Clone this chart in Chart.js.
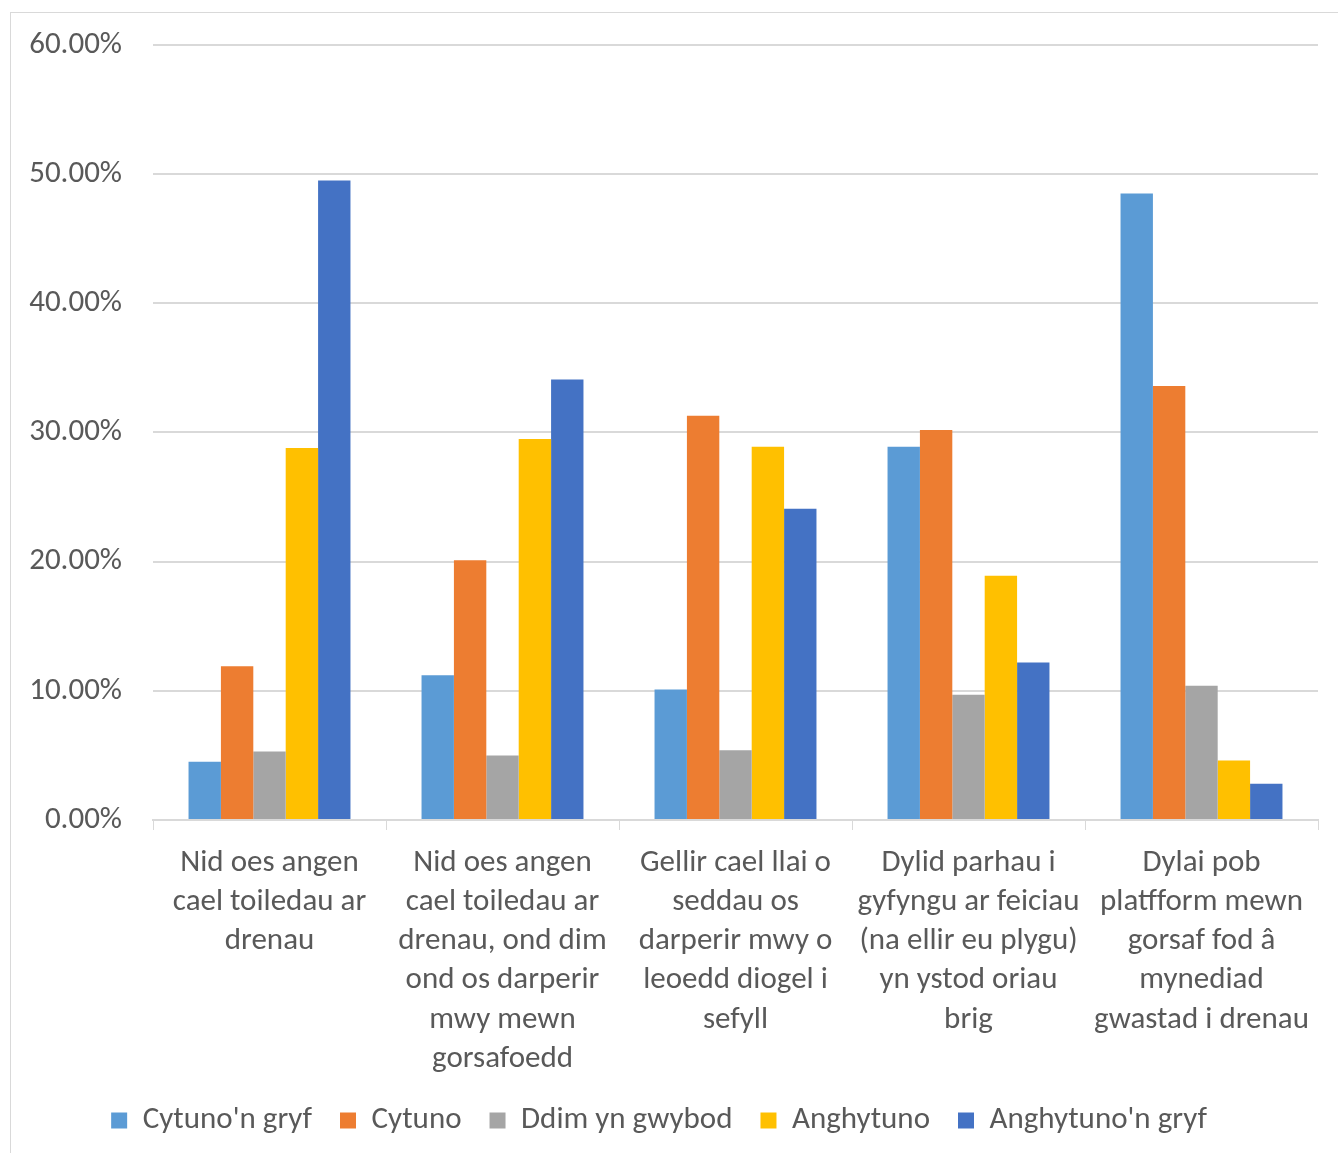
<!DOCTYPE html>
<html>
<head>
<meta charset="utf-8">
<script src="https://cdn.jsdelivr.net/npm/chart.js@4.4.1/dist/chart.umd.min.js"></script>
<style>
  body { margin: 0; background: #fff; }
  #frame { position: absolute; left: 10px; top: 12px; width: 1400px; height: 1200px; border: 1px solid #d9d9d9; }
  #wrap { position: absolute; left: 0; top: 0; width: 1338px; height: 1153px; }
</style>
</head>
<body>
<div id="frame"></div>
<div id="wrap"><canvas id="myChart"></canvas></div>
<script>
let categories = [
  ["Nid oes angen", "cael toiledau ar", "drenau"],
  ["Nid oes angen", "cael toiledau ar", "drenau, ond dim", "ond os darperir", "mwy mewn", "gorsafoedd"],
  ["Gellir cael llai o", "seddau os", "darperir mwy o", "leoedd diogel i", "sefyll"],
  ["Dylid parhau i", "gyfyngu ar feiciau", "(na ellir eu plygu)", "yn ystod oriau", "brig"],
  ["Dylai pob", "platfform mewn", "gorsaf fod â", "mynediad", "gwastad i drenau"]
];
let seriesNames = ["Cytuno'n gryf", "Cytuno", "Ddim yn gwybod", "Anghytuno", "Anghytuno'n gryf"];
let cytunoGryf = [4.5, 11.2, 10.1, 28.9, 48.5];
let cytuno = [11.9, 20.1, 31.3, 30.2, 33.6];
let ddimGwybod = [5.3, 5.0, 5.4, 9.7, 10.4];
let anghytuno = [28.8, 29.5, 28.9, 18.9, 4.6];
let anghytunoGryf = [49.5, 34.1, 24.1, 12.2, 2.8];
let barColors = ["#5B9BD5", "#ED7D31", "#A5A5A5", "#FFC000", "#4472C4"];

let allSeries = [cytunoGryf, cytuno, ddimGwybod, anghytuno, anghytunoGryf];
let datasets = [];
for (let i = 0; i < allSeries.length; i++) {
  datasets.push({
    label: seriesNames[i],
    data: allSeries[i],
    backgroundColor: barColors[i],
    categoryPercentage: 0.695,
    barPercentage: 1.0
  });
}

let font = "Carlito, Lato, sans-serif";
let textColor = "#595959";

new Chart("myChart", {
  type: "bar",
  data: { labels: categories, datasets: datasets },
  options: {
    responsive: true,
    maintainAspectRatio: false,
    animation: false,
    layout: { padding: { top: 10, right: 20, left: 0, bottom: 7 } },
    plugins: {
      tooltip: { enabled: false },
      legend: {
        position: "bottom",
        maxHeight: 77,
        labels: {
          color: textColor,
          font: { family: font, size: 31 },
          boxWidth: 16,
          boxHeight: 16,
          padding: 28
        }
      }
    },
    scales: {
      x: {
        grid: { offset: true, drawOnChartArea: false, color: "#d9d9d9", tickLength: 10 },
        border: { color: "#d9d9d9", width: 2 },
        ticks: { color: textColor, font: { family: font, size: 31, lineHeight: 1.26 }, padding: 14, maxRotation: 0, autoSkip: false },
        afterFit: (scale) => { scale.height = 257; }
      },
      y: {
        min: 0,
        max: 60,
        grid: { color: "#d9d9d9", lineWidth: 2, drawTicks: false },
        border: { display: false },
        ticks: {
          stepSize: 10,
          color: textColor,
          font: { family: font, size: 31, lineHeight: 0.9 },
          padding: 31,
          callback: (v) => v.toFixed(2) + "%"
        },
        afterFit: (scale) => { scale.width = 153; }
      }
    }
  }
});
</script>
</body>
</html>
